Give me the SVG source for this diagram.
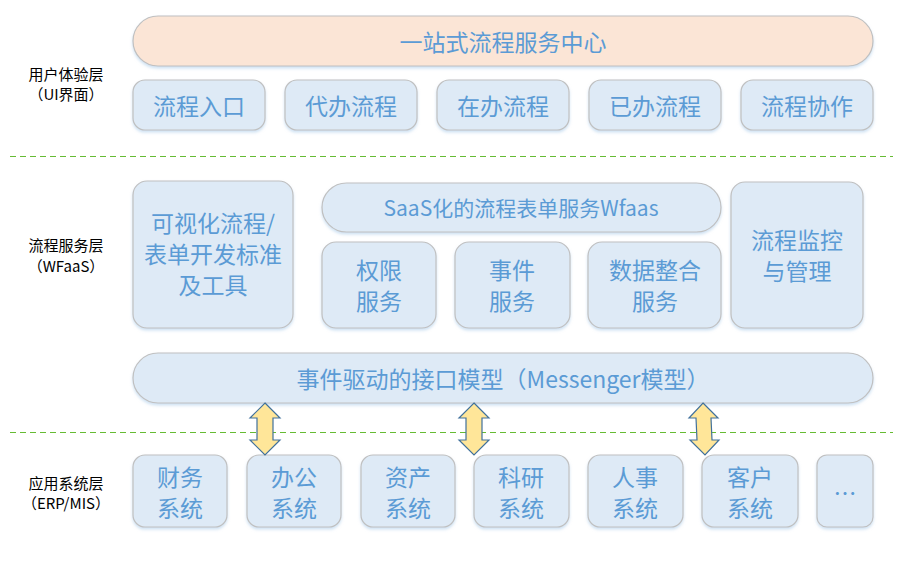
<svg xmlns="http://www.w3.org/2000/svg" width="909" height="575" viewBox="0 0 909 575">
<defs>
<filter id="sh" x="-10%" y="-10%" width="120%" height="130%">
<feDropShadow dx="0" dy="2" stdDeviation="1.5" flood-color="#9DC3E6" flood-opacity="0.5"/>
</filter>
<style>
.box{fill:#DEEAF6;stroke:#C0C0C0;stroke-width:1.2;filter:url(#sh)}
.peach{fill:#FBE5D6;stroke:#C0C0C0;stroke-width:1.2;filter:url(#sh)}
.t{font-family:"Microsoft YaHei","Noto Sans CJK SC","Noto Sans",sans-serif;fill:#5B9BD5;text-anchor:middle;dominant-baseline:central;font-size:23px}
.s{font-size:21px}
.lab{font-family:"Microsoft YaHei","Noto Sans CJK SC","Noto Sans",sans-serif;fill:#000;text-anchor:middle;dominant-baseline:central;font-size:15px}
.dash{stroke:#66BB33;stroke-width:1;stroke-dasharray:6 4;fill:none}
.arr{fill:#FFE699;stroke:#41719C;stroke-width:1.2;stroke-linejoin:miter}
</style>
</defs>
<rect width="909" height="575" fill="#fff"/>

<g id="labels">
<text class="lab" x="66" y="73">用户体验层</text>
<text class="lab" x="66" y="93">（UI界面）</text>
<text class="lab" x="66" y="244">流程服务层</text>
<text class="lab" x="66" y="265">（WFaaS）</text>
<text class="lab" x="66" y="482">应用系统层</text>
<text class="lab" x="66" y="502">（ERP/MIS）</text>
</g>

<g id="separators">
<line class="dash" x1="10" y1="156.5" x2="893" y2="156.5"/>
<line class="dash" x1="10" y1="432.5" x2="893" y2="432.5"/>
</g>

<g id="center">
<rect class="peach" x="133" y="16" width="740" height="50" rx="25"/>
<text class="t" x="503" y="41">一站式流程服务中心</text>
</g>
<g id="entry"><rect class="box" x="133" y="80" width="132" height="50" rx="12"/><text class="t" x="199" y="105">流程入口</text></g>
<g id="todo"><rect class="box" x="285" y="80" width="132" height="50" rx="12"/><text class="t" x="351" y="105">代办流程</text></g>
<g id="doing"><rect class="box" x="437" y="80" width="132" height="50" rx="12"/><text class="t" x="503" y="105">在办流程</text></g>
<g id="done"><rect class="box" x="589" y="80" width="132" height="50" rx="12"/><text class="t" x="655" y="105">已办流程</text></g>
<g id="collab"><rect class="box" x="741" y="80" width="132" height="50" rx="12"/><text class="t" x="807" y="105">流程协作</text></g>

<g id="tools"><rect class="box" x="133" y="181" width="160" height="147" rx="14"/>
<text class="t"><tspan x="213" y="222">可视化流程/</tspan><tspan x="213" y="253">表单开发标准</tspan><tspan x="213" y="284">及工具</tspan></text></g>
<g id="wfaas"><rect class="box" x="322" y="183" width="399" height="49" rx="24.5"/><text class="t s" x="521" y="207">SaaS化的流程表单服务Wfaas</text></g>
<g id="auth"><rect class="box" x="322" y="242" width="114" height="86" rx="14"/><text class="t"><tspan x="379" y="269">权限</tspan><tspan x="379" y="300">服务</tspan></text></g>
<g id="event"><rect class="box" x="455" y="242" width="115" height="86" rx="14"/><text class="t"><tspan x="512" y="269">事件</tspan><tspan x="512" y="300">服务</tspan></text></g>
<g id="data"><rect class="box" x="588" y="242" width="133" height="86" rx="14"/><text class="t"><tspan x="655" y="269">数据整合</tspan><tspan x="655" y="300">服务</tspan></text></g>
<g id="monitor"><rect class="box" x="731" y="182" width="132" height="146" rx="14"/><text class="t"><tspan x="797" y="239">流程监控</tspan><tspan x="797" y="270">与管理</tspan></text></g>

<g id="messenger"><rect class="box" x="133" y="353" width="740" height="50" rx="25"/><text class="t" x="503" y="378">事件驱动的接口模型（Messenger模型）</text></g>

<g id="fin"><rect class="box" x="133" y="455" width="94" height="72" rx="12"/><text class="t"><tspan x="180" y="476">财务</tspan><tspan x="180" y="507">系统</tspan></text></g>
<g id="office"><rect class="box" x="247" y="455" width="94" height="72" rx="12"/><text class="t"><tspan x="294" y="476">办公</tspan><tspan x="294" y="507">系统</tspan></text></g>
<g id="asset"><rect class="box" x="361" y="455" width="94" height="72" rx="12"/><text class="t"><tspan x="408" y="476">资产</tspan><tspan x="408" y="507">系统</tspan></text></g>
<g id="research"><rect class="box" x="474" y="455" width="95" height="72" rx="12"/><text class="t"><tspan x="521" y="476">科研</tspan><tspan x="521" y="507">系统</tspan></text></g>
<g id="hr"><rect class="box" x="588" y="455" width="95" height="72" rx="12"/><text class="t"><tspan x="635" y="476">人事</tspan><tspan x="635" y="507">系统</tspan></text></g>
<g id="customer"><rect class="box" x="702" y="455" width="96" height="72" rx="12"/><text class="t"><tspan x="750" y="476">客户</tspan><tspan x="750" y="507">系统</tspan></text></g>
<g id="more"><rect class="box" x="817" y="455" width="56" height="72" rx="10"/><text class="t" x="845" y="492">…</text></g>

<g id="connectors">
<polygon class="arr" points="265,403 280,418 273,418 273,440 280,440 265,455 250,440 257,440 257,418 250,418"/>
<polygon class="arr" points="474,403 489,418 482,418 482,440 489,440 474,455 459,440 466,440 466,418 459,418"/>
<polygon class="arr" points="703,403 718,418 711,418 712,440 719,440 705,455 690,440 697,440 696,418 689,418"/>
</g>
</svg>
